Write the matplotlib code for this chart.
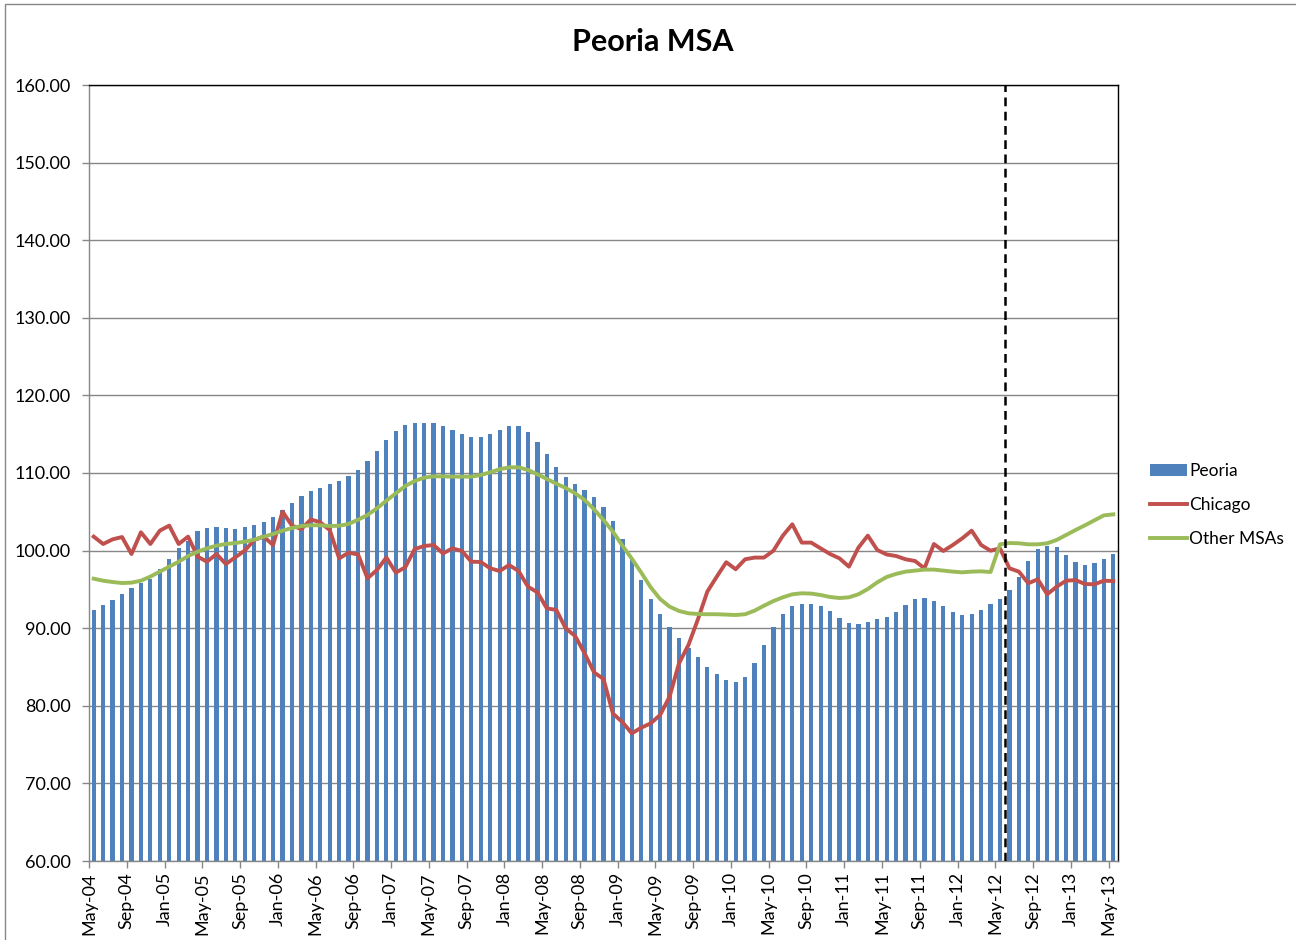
import matplotlib
matplotlib.use("Agg")
import matplotlib.pyplot as plt
from matplotlib.patches import Rectangle
import numpy as np

# ---------------- data (monthly, May-04 .. May-13) ----------------
tick_labels = ["May-04", "Sep-04", "Jan-05", "May-05", "Sep-05", "Jan-06", "May-06",
               "Sep-06", "Jan-07", "May-07", "Sep-07", "Jan-08", "May-08", "Sep-08",
               "Jan-09", "May-09", "Sep-09", "Jan-10", "May-10", "Sep-10", "Jan-11",
               "May-11", "Sep-11", "Jan-12", "May-12", "Sep-12", "Jan-13", "May-13"]

peoria = [92.35, 92.95, 93.68, 94.37, 95.14, 95.87, 96.34, 97.6, 98.88, 100.34,
          101.3, 102.53, 102.87, 103.0, 102.87, 102.83, 103.0, 103.34, 103.73, 104.33,
          105.2, 106.17, 107.08, 107.63, 108.1, 108.54, 109.0, 109.57, 110.39, 111.5,
          112.83, 114.3, 115.46, 116.19, 116.44, 116.44, 116.4, 116.06, 115.54, 114.98,
          114.59, 114.63, 115.03, 115.54, 116.01, 116.01, 115.33, 114.0, 112.41, 110.77,
          109.48, 108.58, 107.8, 106.91, 105.58, 103.77, 101.45, 99.0, 96.2, 93.8,
          91.83, 90.2, 88.74, 87.45, 86.25, 85.04, 84.06, 83.37, 83.11, 83.68,
          85.52, 87.84, 90.12, 91.83, 92.86, 93.16, 93.12, 92.82, 92.17, 91.31,
          90.71, 90.54, 90.75, 91.14, 91.48, 92.13, 93.04, 93.76, 93.89, 93.5,
          92.86, 92.13, 91.75, 91.8, 92.35, 93.12, 93.8, 94.93, 96.65, 98.66,
          100.25, 100.64, 100.43, 99.48, 98.57, 98.2, 98.4, 98.92, 99.6]

chicago = [101.8, 100.85, 101.45, 101.75, 99.56, 102.36, 100.85, 102.57, 103.22, 100.85,
           101.8, 99.23, 98.57, 99.56, 98.27, 99.14, 100.0, 101.37, 101.8, 100.72,
           105.02, 103.22, 102.78, 104.02, 103.64, 102.65, 99.0, 99.73, 99.5, 96.43,
           97.5, 99.1, 97.16, 97.85, 100.2, 100.59, 100.72, 99.64, 100.29, 99.95,
           98.57, 98.53, 97.72, 97.37, 98.14, 97.37, 95.35, 94.62, 92.56, 92.35,
           89.98, 88.99, 86.76, 84.31, 83.45, 79.0, 77.9, 76.45, 77.18, 77.74,
           78.82, 81.18, 85.48, 87.84, 91.14, 94.72, 96.65, 98.5, 97.6, 98.88,
           99.1, 99.1, 99.99, 101.93, 103.39, 101.03, 101.03, 100.29, 99.56, 99.0,
           97.93, 100.38, 101.93, 100.08, 99.5, 99.3, 98.88, 98.66, 97.72, 100.85,
           99.95, 100.72, 101.58, 102.57, 100.72, 99.99, 100.29, 97.72, 97.29, 95.79,
           96.3, 94.37, 95.35, 96.12, 96.2, 95.7, 95.65, 96.12, 96.08]

other_msas = [96.38, 96.12, 95.95, 95.82, 95.87, 96.12, 96.65, 97.29, 97.93, 98.57,
              99.3, 99.86, 100.29, 100.64, 100.85, 100.98, 101.15, 101.41, 101.8, 102.14,
              102.57, 102.91, 103.17, 103.26, 103.26, 103.17, 103.2, 103.43, 103.98, 104.59,
              105.45, 106.43, 107.38, 108.32, 108.97, 109.4, 109.57, 109.57, 109.53, 109.53,
              109.53, 109.74, 110.09, 110.48, 110.73, 110.73, 110.39, 109.83, 109.23, 108.62,
              108.07, 107.38, 106.52, 105.32, 103.94, 102.44, 100.64, 98.96, 97.16, 95.27,
              93.76, 92.78, 92.22, 91.92, 91.83, 91.8, 91.8, 91.75, 91.7, 91.8,
              92.26, 92.9, 93.5, 93.98, 94.37, 94.5, 94.46, 94.28, 94.02, 93.89,
              93.98, 94.37, 95.05, 95.91, 96.6, 97.0, 97.29, 97.42, 97.55, 97.55,
              97.42, 97.29, 97.2, 97.29, 97.33, 97.24, 100.81, 100.98, 100.94, 100.81,
              100.81, 100.94, 101.37, 102.01, 102.65, 103.26, 103.9, 104.54, 104.67]

forecast_start_label = "May-12"

# ---------------- figure ----------------
plt.rcParams['font.family'] = ['Lato', 'DejaVu Sans']

fig = plt.figure(figsize=(12.96, 9.40), dpi=100)
ax = fig.add_axes([89/1296, 1 - 861/940, (1118-89)/1296, (861-85)/940])

n = len(peoria)
x = np.arange(n)

h_bar = ax.bar(x, [v - 60 for v in peoria], bottom=60, width=0.45, color="#4F81BD",
               label="Peoria", zorder=2)
h_chi, = ax.plot(x, chicago, color="#C0504D", lw=2.8, label="Chicago", zorder=3,
                 solid_joinstyle="round")
h_oth, = ax.plot(x, other_msas, color="#9BBB59", lw=2.8, label="Other MSAs", zorder=3,
                 solid_joinstyle="round")

# forecast divider
fidx = tick_labels.index(forecast_start_label) * 4
ax.axvline(fidx + 0.5, color="black", lw=1.8, ls=(0, (3.5, 2.2)), zorder=4)

ax.set_xlim(-0.5, n - 0.5)
ax.set_ylim(60, 160)
ax.set_yticks(np.arange(60, 161, 10))
ax.set_yticklabels([f"{v:.2f}" for v in np.arange(60, 161, 10)], fontsize=13)
ax.set_xticks(np.arange(len(tick_labels)) * 4 - 0.5)
ax.set_xticklabels(tick_labels, rotation=90, fontsize=13)
ax.tick_params(axis='both', direction='out', length=5, color="#878787", width=1)
ax.tick_params(axis='x', pad=3)
ax.tick_params(axis='y', pad=8)

ax.grid(axis='y', color="#878787", lw=1.0, zorder=0)
ax.set_axisbelow(True)
for s in ["top", "right"]:
    ax.spines[s].set_color("black")
    ax.spines[s].set_linewidth(1.0)
for s in ["left", "bottom"]:
    ax.spines[s].set_color("#878787")
    ax.spines[s].set_linewidth(1.0)

fig.text(653/1296, 1 - 42/940, "Peoria MSA", ha="center", va="center",
         fontsize=22, fontweight="bold")

leg = fig.legend([h_bar, h_chi, h_oth], ["Peoria", "Chicago", "Other MSAs"],
                 loc="upper left",
                 bbox_to_anchor=(1143/1296, 1 - 456/940), frameon=False,
                 fontsize=12.5, handlelength=2.15, handletextpad=0.12,
                 labelspacing=1.05, borderaxespad=0)

# chart-area border
fig.patches.append(Rectangle((5/1296, -0.05), 1.2, 1 - 4/940 + 0.05,
                             transform=fig.transFigure, fill=False,
                             edgecolor="#878787", lw=1.0))

fig.savefig("out.png", dpi=100)
